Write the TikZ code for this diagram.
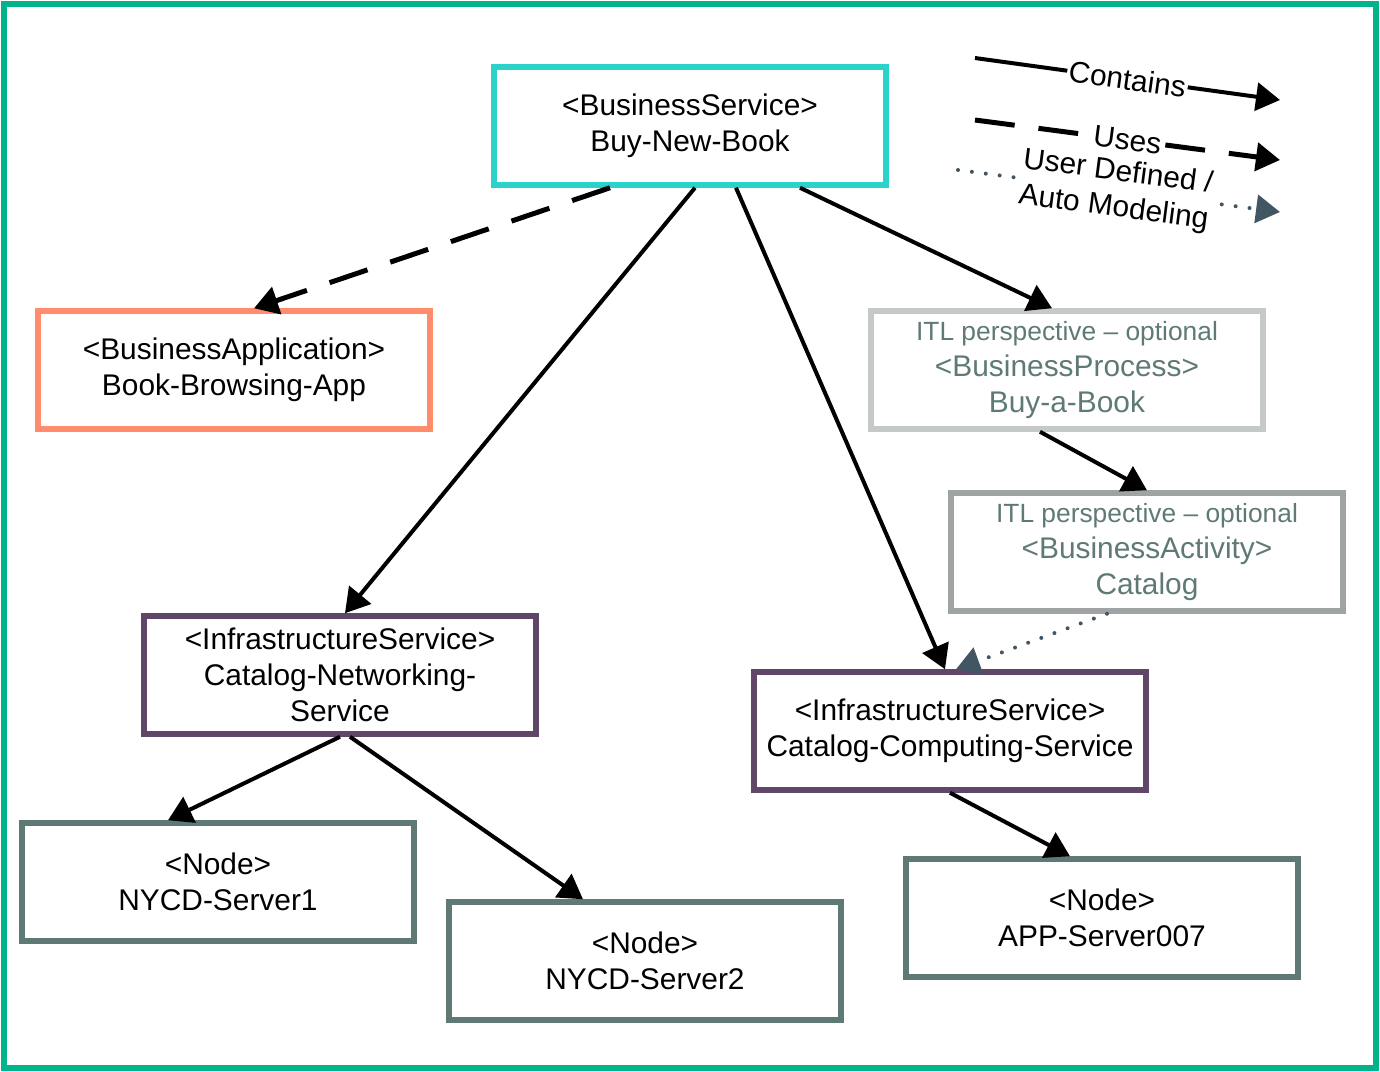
\documentclass[tikz,border=0pt]{standalone}
\usepackage{fontspec}
\setmainfont{Liberation Sans}
\usetikzlibrary{arrows.meta,positioning}

\definecolor{hpegreen}{HTML}{00B388}
\definecolor{svcteal}{HTML}{2AD2C9}
\definecolor{appcoral}{HTML}{FF8D6D}
\definecolor{itlgray}{HTML}{C6C9CA}
\definecolor{itldark}{HTML}{9FA3A4}
\definecolor{infrapurple}{HTML}{614767}
\definecolor{nodegray}{HTML}{5F7A76}
\definecolor{slate}{HTML}{425563}

\begin{document}
\begin{tikzpicture}[x=0.1mm, y=-0.1mm,
					box/.style={rectangle, draw=#1, line width=0.55mm, minimum width=39.2mm, minimum height=11.8mm, align=center, inner sep=0pt, font=\fontsize{8.5}{10.2}\selectfont},
					itlbox/.style={box=#1, text=nodegray},
					tip/.style={-{Triangle[length=2.4mm,width=2.8mm]}},
					contains/.style={tip, line width=0.4mm},
					uses/.style={tip, line width=0.5mm, dash pattern=on 4mm off 2.4mm},
					modeled/.style={tip, slate, line width=0.4mm, line cap=round, dash pattern=on 0pt off 1.4mm},
					legendtext/.style={sloped, fill=white, text=black, inner sep=0.5pt, align=center, font=\fontsize{8.5}{10.2}\selectfont}]
					\useasboundingbox (0,0) rectangle (1380,1072);
					\draw[hpegreen, line width=0.6mm] (4,4) rectangle (1376,1068);
					% boxes
					\node[box=svcteal] (bs) at (690,126) {<BusinessService>\\Buy-New-Book};
					\node[box=appcoral] (ba) at (234,370) {<BusinessApplication>\\Book-Browsing-App};
					\node[itlbox=itlgray] (bp) at (1067,370) {{\fontsize{7.5}{9.4}\selectfont ITL perspective -- optional}\\<BusinessProcess>\\Buy-a-Book};
					\node[itlbox=itldark] (bact) at (1147,552) {{\fontsize{7.5}{9.4}\selectfont ITL perspective -- optional}\\<BusinessActivity>\\Catalog};
					\node[box=infrapurple] (isn) at (340,675) {<InfrastructureService>\\Catalog-Networking-\\Service};
					\node[box=infrapurple] (isc) at (950,731) {<InfrastructureService>\\Catalog-Computing-Service};
					\node[box=nodegray] (n1) at (218,882) {<Node>\\NYCD-Server1};
					\node[box=nodegray] (n2) at (645,961) {<Node>\\NYCD-Server2};
					\node[box=nodegray] (n3) at (1102,918) {<Node>\\APP-Server007};
					% connectors
					\draw[uses] ([xshift=-8mm]bs.south) -- ([xshift=2mm]ba.north);
					\draw[contains] ([xshift=0.5mm]bs.south) -- ([xshift=0.5mm]isn.north);
					\draw[contains] ([xshift=4.6mm]bs.south) -- ([xshift=-0.5mm]isc.north);
					\draw[contains] ([xshift=11mm]bs.south) -- ([xshift=-1.5mm]bp.north);
					\draw[contains] ([xshift=-2.7mm]bp.south) -- (bact.north);
					\draw[modeled] ([xshift=-4mm]bact.south) -- ([xshift=0.6mm]isc.north);
					\draw[contains] (isn.south) -- ([xshift=-5mm]n1.north);
					\draw[contains] ([xshift=1mm]isn.south) -- ([xshift=-6.2mm]n2.north);
					\draw[contains] (isc.south) -- ([xshift=-3.2mm]n3.north);
					% legend
					\coordinate (lc1) at (975,58);
					\coordinate (lc2) at (1280,100);
					\coordinate (lu1) at (975,120);
					\coordinate (lu2) at (1280,160);
					\coordinate (lm1) at (958,170);
					\coordinate (lm2) at (1280,212);
					\draw[contains] (lc1) -- node[legendtext] {Contains} (lc2);
					\draw[uses] (lu1) -- node[legendtext] {Uses} (lu2);
					\draw[modeled] (lm1) -- node[legendtext, pos=0.49] {User Defined /\\Auto Modeling} (lm2);
				\end{tikzpicture}
\end{document}
